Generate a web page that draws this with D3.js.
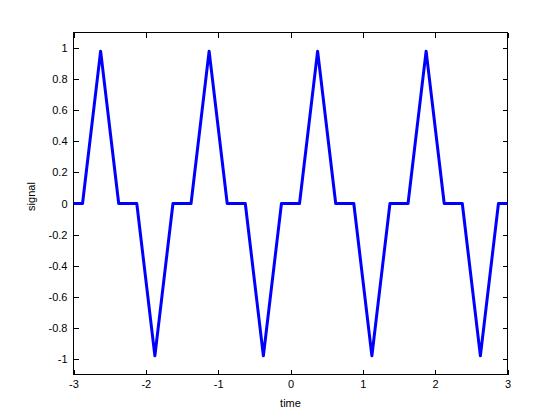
<!DOCTYPE html>
<html>
<head>
<meta charset="utf-8">
<script src="https://cdn.jsdelivr.net/npm/d3@7"></script>
<style>
  body { margin: 0; background: #fff; }
  svg text { font-family: "Liberation Sans", Arial, Helvetica, sans-serif; font-size: 11px; fill: #000; }
</style>
</head>
<body>
<div id="chart"></div>
<script>
// breakpoints of the signal
var times = [-3, -2.875, -2.625, -2.375, -2.125, -1.875, -1.625, -1.375, -1.125,
             -0.875, -0.625, -0.375, -0.125, 0.125, 0.375, 0.625, 0.875, 1.125,
             1.375, 1.625, 1.875, 2.125, 2.375, 2.625, 2.875, 3];
var signal = [0, 0, 0.98, 0, 0, -0.98, 0, 0, 0.98,
              0, 0, -0.98, 0, 0, 0.98, 0, 0, -0.98,
              0, 0, 0.98, 0, 0, -0.98, 0, 0];

var xTicks = [-3, -2, -1, 0, 1, 2, 3];
var yTicks = [-1, -0.8, -0.6, -0.4, -0.2, 0, 0.2, 0.4, 0.6, 0.8, 1];
var xLabel = "time";
var yLabel = "signal";

var width = 560, height = 420;
var margin = ({top: 32, right: 53, bottom: 46, left: 73});
var Gwidth = width - margin.left - margin.right;
var Gheight = height - margin.top - margin.bottom;

var data = times.map((t, i) => ({t: t, v: signal[i]}));

var svg = d3.select("#chart").append("svg")
    .attr("width", width)
    .attr("height", height);

svg.append("rect")
    .attr("width", width)
    .attr("height", height)
    .attr("fill", "#fff");

var topG = svg.append("g")
    .attr("transform", "translate(" + (margin.left + 0.5) + "," + (margin.top + 0.5) + ")");

var scaleX = d3.scaleLinear()
    .domain([-3, 3])
    .range([0, Gwidth]);

var scaleY = d3.scaleLinear()
    .domain([-1.1, 1.1])
    .range([Gheight, 0]);

var fmt = d => String(d);

// axes, ticks pointing inward
var xAxis = topG.append("g")
    .attr("transform", "translate(0," + Gheight + ")")
    .call(d3.axisBottom(scaleX).tickValues(xTicks).tickFormat(fmt)
          .tickSizeInner(-5).tickSizeOuter(0).tickPadding(6));

var xAxisTop = topG.append("g")
    .call(d3.axisTop(scaleX).tickValues(xTicks).tickFormat("")
          .tickSizeInner(-5).tickSizeOuter(0));

var yAxis = topG.append("g")
    .call(d3.axisLeft(scaleY).tickValues(yTicks).tickFormat(fmt)
          .tickSizeInner(-5).tickSizeOuter(0).tickPadding(6));

var yAxisRight = topG.append("g")
    .attr("transform", "translate(" + Gwidth + ",0)")
    .call(d3.axisRight(scaleY).tickValues(yTicks).tickFormat("")
          .tickSizeInner(-5).tickSizeOuter(0));

topG.selectAll(".domain").remove();
topG.selectAll(".tick line").attr("stroke", "#000").attr("shape-rendering", "crispEdges");
topG.selectAll(".tick text")
    .style("font-family", "'Liberation Sans', Arial, sans-serif")
    .style("font-size", "11px");

// the box
topG.append("rect")
    .attr("width", Gwidth)
    .attr("height", Gheight)
    .attr("fill", "none")
    .attr("stroke", "#000")
    .attr("stroke-width", 1)
    .attr("shape-rendering", "crispEdges");

// signal line
var valueLine = d3.line()
    .x(d => scaleX(d.t))
    .y(d => scaleY(d.v));

topG.append("path")
    .datum(data)
    .attr("d", valueLine)
    .attr("fill", "none")
    .attr("stroke", "#0000ff")
    .attr("stroke-width", 3)
    .attr("stroke-linejoin", "round");

// axis titles
topG.append("text")
    .attr("x", Gwidth / 2)
    .attr("y", Gheight + 32)
    .style("text-anchor", "middle")
    .text(xLabel);

topG.append("text")
    .attr("transform", "rotate(-90)")
    .attr("x", -(Gheight / 2) + 7)
    .attr("y", -39)
    .style("text-anchor", "middle")
    .text(yLabel);
</script>
</body>
</html>
